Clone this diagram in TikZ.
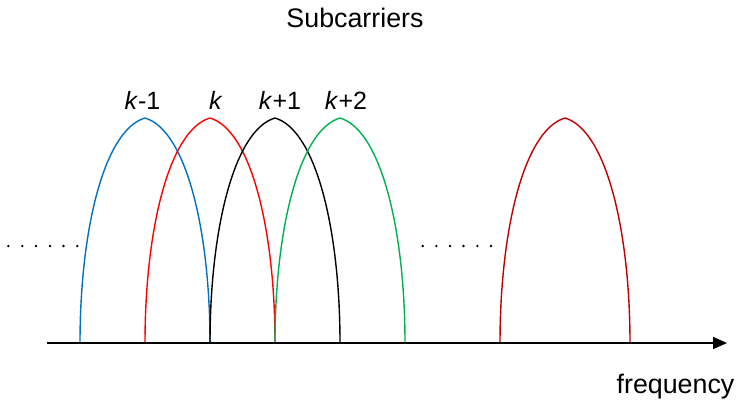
\documentclass[tikz,border=0pt]{standalone}
\usepackage{fontspec}
\setmainfont{Liberation Sans}
\usetikzlibrary{arrows.meta}
\definecolor{cblue}{RGB}{0,112,192}
\definecolor{cred}{RGB}{255,0,0}
\definecolor{cgreen}{RGB}{0,176,80}
\definecolor{cdark}{RGB}{192,0,0}
\tikzset{
  arch/.pic={\draw[line width=1.4pt] (0,0) .. controls (0,-113) and (24,-213) .. (65,-225) .. controls (106,-213) and (130,-113) .. (130,0);},
  lbl/.style={anchor=base, inner sep=0pt, font=\fontsize{25}{30}\selectfont},
  biglbl/.style={anchor=base, inner sep=0pt, font=\fontsize{26.8}{32}\selectfont},
  dotmark/.style={fill=black}
}
\begin{document}
\begin{tikzpicture}[x=1pt,y=-1pt]
\useasboundingbox (0,0) rectangle (739,404);
% arches
\pic[cblue] at (80,343) {arch};
\pic[cred] at (145,343) {arch};
\pic[black] at (210,343) {arch};
\pic[cgreen] at (275,343) {arch};
\pic[cdark] at (500,343) {arch};
% axis
\coordinate (axs) at (47,343);
\coordinate (axe) at (727,343);
\draw[line width=1.8pt, -{Triangle[length=14pt,width=12pt]}] (axs) -- (axe);
% dots
\foreach \x in {8.3,22.3,36,50,63.5,77.3} \fill[dotmark] (\x,246) circle (1.3);
\foreach \x in {422.7,436.3,450,463.5,477.3,491} \fill[dotmark] (\x,246) circle (1.3);
% labels
\node[biglbl] (title) at (355,28) {Subcarriers};
\node[biglbl] (freq) at (675.5,393) {frequency};
\node[lbl] (l1) at (142.5,110) {\textit{k}-1};
\node[lbl] (l2) at (216,110) {\textit{k}};
\node[lbl] (l3) at (280,110) {\textit{k}+1};
\node[lbl] (l4) at (346,110) {\textit{k}+2};
\end{tikzpicture}
\end{document}
